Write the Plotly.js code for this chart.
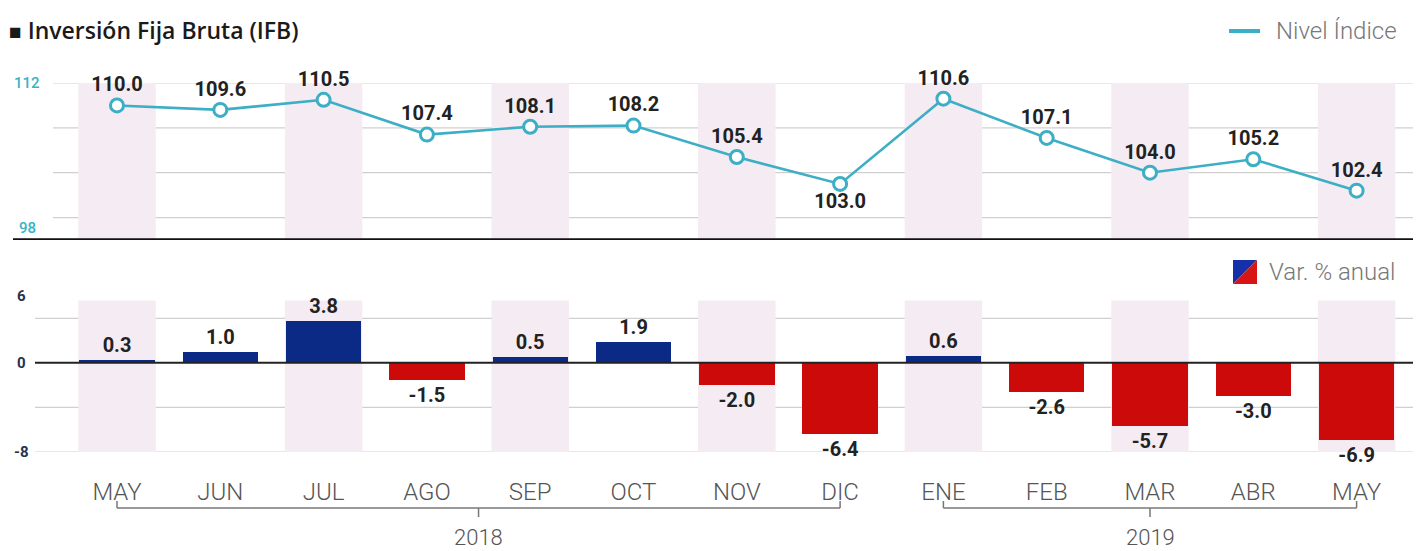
<!DOCTYPE html>
<html>
<head>
<meta charset="utf-8">
<script src="https://cdn.plot.ly/plotly-3.0.1.min.js"></script>
<style>html,body{margin:0;padding:0;background:#fff;}#chart{width:1416px;height:551px;}</style>
</head>
<body>
<div id="chart"></div>
<script>
// ---- data ----
const months = ['MAY','JUN','JUL','AGO','SEP','OCT','NOV','DIC','ENE','FEB','MAR','ABR','MAY'];
const nivelIndice = [110.0, 109.6, 110.5, 107.4, 108.1, 108.2, 105.4, 103.0, 110.6, 107.1, 104.0, 105.2, 102.4];
const varAnual = [0.3, 1.0, 3.8, -1.5, 0.5, 1.9, -2.0, -6.4, 0.6, -2.6, -5.7, -3.0, -6.9];
const years = ['2018', '2019'];
const yearFirst = [0, 8];
const yearLast = [7, 12];
const topTicks = [112, 98];
const bottomTicks = [6, 0, -8];

// ---- layout helpers (pixel -> paper) ----
const W = 1416, H = 551;
const mL = 13, mR = 3, mT = 83, mB = 99;
const pw = W - mL - mR, ph = H - mT - mB;
const px = x => (x - mL) / pw;
const py = y => (H - mB - y) / ph;

const xIdx = months.map((_, i) => i);
const teal = '#3caec5';
const navy = '#0b2a86';
const red = '#cc0a0a';
const band = '#f5ebf2';
const labelFont = {family: 'Roboto, Arial, sans-serif', size: 20, color: '#222', weight: 700};
const lightFont = (size, color) => ({family: 'Roboto, Arial, sans-serif', size: size, color: color, weight: 300});

const lineTrace = {
  x: xIdx, y: nivelIndice, xaxis: 'x', yaxis: 'y', type: 'scatter', mode: 'lines+markers+text',
  line: {color: teal, width: 2.6},
  marker: {size: 13, color: '#ffffff', line: {color: teal, width: 3}},
  text: nivelIndice.map(v => v.toFixed(1)),
  textposition: nivelIndice.map((v, i) => i === 7 ? 'bottom center' : 'top center'),
  textfont: labelFont, cliponaxis: false, hoverinfo: 'skip', showlegend: false
};
const barTrace = {
  x: xIdx, y: varAnual, xaxis: 'x', yaxis: 'y2', type: 'bar', width: 0.73,
  marker: {color: varAnual.map(v => v >= 0 ? navy : red)},
  text: varAnual.map(v => v.toFixed(1)), textposition: 'outside',
  textfont: labelFont, cliponaxis: false, constraintext: 'none', hoverinfo: 'skip', showlegend: false
};

const shapes = [];
// shaded bands (every other month)
xIdx.forEach(i => {
  if (i % 2 === 0) {
    shapes.push({type: 'rect', xref: 'x', yref: 'y', x0: i - 0.375, x1: i + 0.375, y0: 98, y1: 112,
      fillcolor: band, line: {width: 0}, layer: 'below'});
    shapes.push({type: 'rect', xref: 'x', yref: 'y2', x0: i - 0.375, x1: i + 0.375, y0: -8, y1: 5.6,
      fillcolor: band, line: {width: 0}, layer: 'below'});
  }
});
// gridlines
[112, 108, 104, 100].forEach(v => shapes.push({type: 'line', xref: 'paper', yref: 'y', x0: px(53), x1: 1, y0: v, y1: v,
  line: {color: '#d0d0d0', width: 1.2}, layer: 'below'}));
[4, -4, -8].forEach(v => shapes.push({type: 'line', xref: 'paper', yref: 'y2', x0: px(35), x1: 1, y0: v, y1: v,
  line: {color: '#d0d0d0', width: 1.2}, layer: 'below'}));
// baseline of top panel & zero line
shapes.push({type: 'line', xref: 'paper', yref: 'y', x0: 0, x1: 1, y0: 98, y1: 98, line: {color: '#111', width: 3.5}, layer: 'above'});
shapes.push({type: 'line', xref: 'paper', yref: 'y2', x0: px(35), x1: 1, y0: 0, y1: 0, line: {color: '#222', width: 2}, layer: 'above'});

const annotations = [];
// year brackets
years.forEach((yr, k) => {
  const a = yearFirst[k], b = yearLast[k], m = (a + b) / 2;
  const c = {color: '#777', width: 1.5};
  shapes.push({type: 'line', xref: 'x', yref: 'paper', x0: a, x1: b, y0: py(508), y1: py(508), line: c});
  shapes.push({type: 'line', xref: 'x', yref: 'paper', x0: a, x1: a, y0: py(508), y1: py(501), line: c});
  shapes.push({type: 'line', xref: 'x', yref: 'paper', x0: b, x1: b, y0: py(508), y1: py(501), line: c});
  shapes.push({type: 'line', xref: 'x', yref: 'paper', x0: m, x1: m, y0: py(508), y1: py(517), line: c});
  annotations.push({xref: 'x', yref: 'paper', x: m, y: py(537), text: yr, showarrow: false,
    font: lightFont(22, '#555'), xanchor: 'center', yanchor: 'middle'});
});
// y tick labels
topTicks.forEach(v => annotations.push({xref: 'paper', yref: 'y', x: px(27), y: v === 98 ? 99.1 : v, text: String(v), showarrow: false,
  font: {family: 'Roboto, Arial, sans-serif', size: 15, color: '#36b3c3', weight: 500}, xanchor: 'center', yanchor: 'middle'}));
bottomTicks.forEach(v => annotations.push({xref: 'paper', yref: 'y2', x: px(21), y: v, text: String(v), showarrow: false,
  font: {family: 'Roboto, Arial, sans-serif', size: 15, color: '#25324f', weight: 700}, xanchor: 'center', yanchor: 'middle'}));
// legends
shapes.push({type: 'line', xref: 'paper', yref: 'paper', x0: px(1229), x1: px(1260), y0: py(31), y1: py(31), line: {color: teal, width: 4}});
annotations.push({xref: 'paper', yref: 'paper', x: px(1274), y: py(31), text: 'Nivel Índice', showarrow: false,
  font: lightFont(24, '#777'), xanchor: 'left', yanchor: 'middle'});
const ix0 = px(1233), ix1 = px(1257), iy0 = py(284), iy1 = py(260);
shapes.push({type: 'path', xref: 'paper', yref: 'paper', path: `M ${ix0} ${iy0} L ${ix0} ${iy1} L ${ix1} ${iy1} Z`, fillcolor: '#1530a8', line: {width: 0}});
shapes.push({type: 'path', xref: 'paper', yref: 'paper', path: `M ${ix0} ${iy0} L ${ix1} ${iy1} L ${ix1} ${iy0} Z`, fillcolor: '#d81414', line: {width: 0}});
annotations.push({xref: 'paper', yref: 'paper', x: px(1267), y: py(272), text: 'Var. % anual', showarrow: false,
  font: lightFont(24, '#777'), xanchor: 'left', yanchor: 'middle'});

const layout = {
  width: W, height: H,
  margin: {l: mL, r: mR, t: mT, b: mB, pad: 0},
  paper_bgcolor: '#ffffff', plot_bgcolor: 'rgba(0,0,0,0)',
  title: {text: '<span style="font-size:21px">■</span> Inversión Fija Bruta (IFB)', x: 9 / W, xanchor: 'left', xref: 'container',
    y: 1 - 31 / H, yanchor: 'middle', font: {family: '"Open Sans", Arial, sans-serif', size: 23, color: '#1a1a1a', weight: 600}},
  xaxis: {type: 'linear', range: [(mL - 117) / 103.3, (W - mR - 117) / 103.3], anchor: 'y2',
    tickvals: xIdx, ticktext: months, showgrid: false, zeroline: false, showline: false, ticks: '',
    ticklabelstandoff: 23,
    tickfont: lightFont(24, '#555'), fixedrange: true},
  yaxis: {domain: [py(240), 1], range: [98, 112], showgrid: false, zeroline: false, showticklabels: false, fixedrange: true},
  yaxis2: {domain: [0, py(296)], range: [-8, 6], showgrid: false, zeroline: false, showticklabels: false, fixedrange: true},
  shapes: shapes, annotations: annotations, showlegend: false, bargap: 0
};

Plotly.newPlot('chart', [barTrace, lineTrace], layout, {displayModeBar: false, staticPlot: true});
</script>
</body>
</html>
